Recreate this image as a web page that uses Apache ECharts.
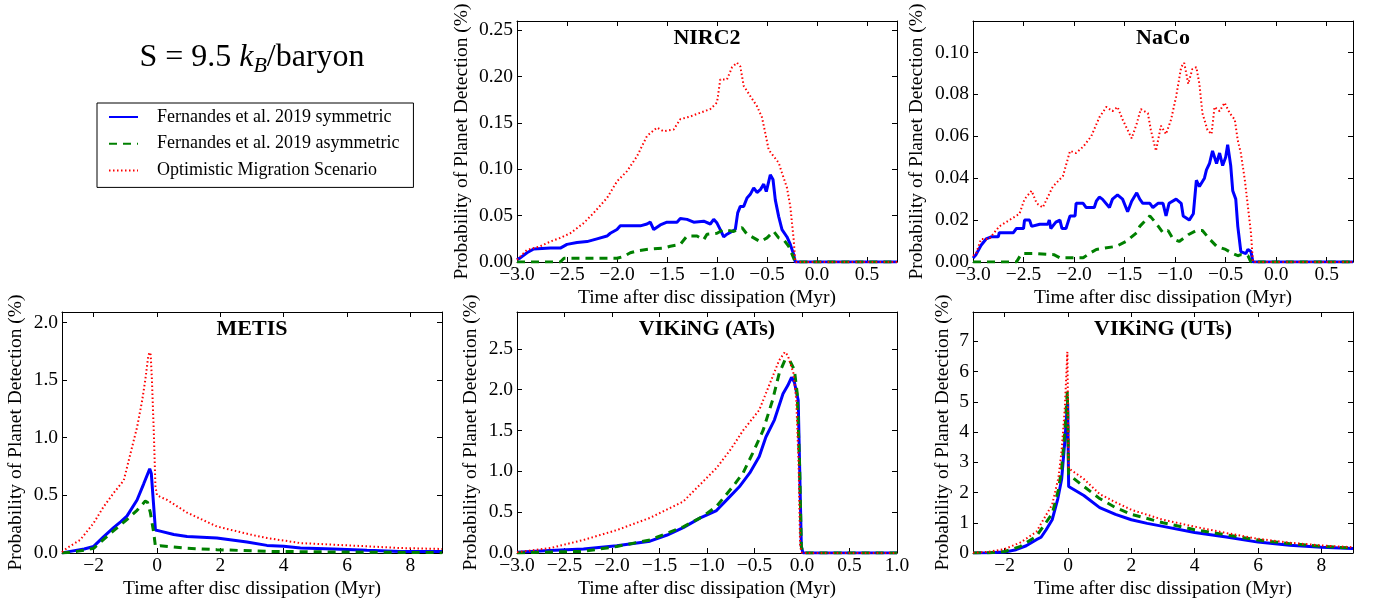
<!DOCTYPE html>
<html><head><meta charset="utf-8">
<script src="https://cdn.jsdelivr.net/npm/echarts@6/dist/echarts.min.js"></script>
<style>html,body{margin:0;padding:0;background:#fff}#c{width:1374px;height:608px}</style>
</head><body><div id="c"></div>
<script>
// ---------- names ----------
const seriesNames = ['Fernandes et al. 2019 symmetric', 'Fernandes et al. 2019 asymmetric', 'Optimistic Migration Scenario'];
const panelTitles = ['NIRC2', 'NaCo', 'METIS', 'VIKiNG (ATs)', 'VIKiNG (UTs)'];
const xAxisName = 'Time after disc dissipation (Myr)';
const yAxisName = 'Probability of Planet Detection (%)';

// ---------- tick labels ----------
const xTicksShort = [-3, -2.5, -2, -1.5, -1, -0.5, 0, 0.5];
const xTicksATs = [-3, -2.5, -2, -1.5, -1, -0.5, 0, 0.5, 1];
const xTicksLong = [-2, 0, 2, 4, 6, 8];
const yTicksNIRC2 = [0, 0.05, 0.10, 0.15, 0.20, 0.25];
const yTicksNaCo = [0, 0.02, 0.04, 0.06, 0.08, 0.10];
const yTicksMETIS = [0, 0.5, 1.0, 1.5, 2.0];
const yTicksATs = [0, 0.5, 1.0, 1.5, 2.0, 2.5];
const yTicksUTs = [0, 1, 2, 3, 4, 5, 6, 7];

// ---------- data ----------
const nirc2Sym = [[-3.0,0.0025],[-2.967,0.0045],[-2.9,0.01],[-2.833,0.014],[-2.667,0.015],[-2.567,0.015],[-2.5,0.019],[-2.4,0.021],[-2.3,0.022],[-2.2,0.025],[-2.1,0.028],[-2.067,0.031],[-2.0,0.035],[-1.967,0.039],[-1.867,0.039],[-1.767,0.039],[-1.7,0.041],[-1.667,0.043],[-1.633,0.035],[-1.567,0.04],[-1.5,0.043],[-1.4,0.043],[-1.367,0.047],[-1.3,0.046],[-1.233,0.043],[-1.133,0.044],[-1.067,0.041],[-1.033,0.046],[-1.0,0.042],[-0.967,0.035],[-0.933,0.027],[-0.9,0.03],[-0.85,0.033],[-0.817,0.035],[-0.793,0.053],[-0.767,0.06],[-0.733,0.06],[-0.7,0.069],[-0.667,0.073],[-0.633,0.08],[-0.6,0.075],[-0.567,0.078],[-0.533,0.084],[-0.507,0.076],[-0.467,0.094],[-0.44,0.089],[-0.417,0.067],[-0.383,0.049],[-0.35,0.035],[-0.3,0.027],[-0.267,0.019],[-0.233,0.008],[-0.217,0],[0.8,0]];
const nirc2Asym = [[-3,0],[-2.567,0],[-2.53,0.004],[-2.0,0.004],[-1.933,0.006],[-1.867,0.01],[-1.8,0.012],[-1.667,0.014],[-1.533,0.015],[-1.467,0.017],[-1.367,0.019],[-1.3,0.028],[-1.2,0.028],[-1.133,0.024],[-1.1,0.03],[-1.0,0.031],[-0.933,0.035],[-0.833,0.033],[-0.75,0.037],[-0.7,0.03],[-0.633,0.026],[-0.567,0.022],[-0.5,0.026],[-0.433,0.033],[-0.383,0.026],[-0.333,0.024],[-0.283,0.017],[-0.233,0.004],[-0.217,0],[0.8,0]];
const nirc2Opt = [[-3,0.0025],[-2.9,0.013],[-2.767,0.017],[-2.667,0.022],[-2.567,0.026],[-2.467,0.031],[-2.333,0.042],[-2.233,0.053],[-2.1,0.069],[-2.0,0.087],[-1.9,0.098],[-1.8,0.114],[-1.7,0.136],[-1.6,0.145],[-1.533,0.141],[-1.433,0.143],[-1.367,0.154],[-1.267,0.157],[-1.167,0.161],[-1.067,0.165],[-1.0,0.172],[-0.967,0.197],[-0.9,0.197],[-0.85,0.21],[-0.8,0.215],[-0.767,0.211],[-0.733,0.19],[-0.667,0.179],[-0.6,0.168],[-0.55,0.156],[-0.517,0.139],[-0.483,0.121],[-0.433,0.114],[-0.383,0.107],[-0.35,0.096],[-0.3,0.08],[-0.267,0.06],[-0.233,0.024],[-0.217,0],[0.8,0]];

const nacoSym = [[-3,0.0019],[-2.97,0.0035],[-2.92,0.008],[-2.87,0.011],[-2.82,0.012],[-2.75,0.012],[-2.74,0.014],[-2.6,0.014],[-2.57,0.016],[-2.5,0.016],[-2.49,0.02],[-2.44,0.02],[-2.42,0.017],[-2.34,0.018],[-2.26,0.018],[-2.245,0.02],[-2.23,0.016],[-2.18,0.019],[-2.14,0.02],[-2.12,0.016],[-2.08,0.016],[-2.04,0.022],[-1.99,0.022],[-1.98,0.028],[-1.91,0.028],[-1.88,0.026],[-1.8,0.026],[-1.78,0.029],[-1.75,0.031],[-1.72,0.03],[-1.65,0.026],[-1.62,0.03],[-1.57,0.032],[-1.52,0.03],[-1.47,0.024],[-1.43,0.029],[-1.38,0.033],[-1.35,0.03],[-1.32,0.028],[-1.25,0.028],[-1.22,0.026],[-1.17,0.028],[-1.12,0.028],[-1.09,0.022],[-1.06,0.028],[-0.99,0.03],[-0.94,0.028],[-0.92,0.022],[-0.86,0.02],[-0.82,0.023],[-0.79,0.039],[-0.76,0.036],[-0.71,0.04],[-0.69,0.044],[-0.66,0.047],[-0.63,0.053],[-0.59,0.047],[-0.56,0.052],[-0.53,0.046],[-0.5,0.05],[-0.48,0.056],[-0.45,0.046],[-0.43,0.034],[-0.4,0.03],[-0.38,0.017],[-0.35,0.005],[-0.3,0.004],[-0.28,0.006],[-0.25,0.005],[-0.23,0],[0.76,0]];
const nacoAsym = [[-3,0],[-2.57,0],[-2.52,0.004],[-2.37,0.004],[-2.2,0.0035],[-2.14,0.002],[-1.91,0.002],[-1.85,0.004],[-1.78,0.006],[-1.58,0.0075],[-1.48,0.01],[-1.38,0.014],[-1.35,0.017],[-1.29,0.02],[-1.25,0.022],[-1.19,0.0186],[-1.12,0.014],[-1.07,0.015],[-1.02,0.011],[-0.96,0.0098],[-0.87,0.013],[-0.79,0.015],[-0.73,0.015],[-0.66,0.011],[-0.59,0.0075],[-0.5,0.006],[-0.43,0.004],[-0.38,0.003],[-0.35,0.0035],[-0.28,0.003],[-0.25,0],[0.76,0]];
const nacoOpt = [[-3,0.003],[-2.97,0.004],[-2.92,0.011],[-2.84,0.011],[-2.74,0.017],[-2.64,0.02],[-2.54,0.023],[-2.49,0.03],[-2.42,0.034],[-2.37,0.028],[-2.31,0.026],[-2.21,0.036],[-2.11,0.041],[-2.04,0.053],[-1.98,0.052],[-1.91,0.055],[-1.83,0.06],[-1.75,0.069],[-1.68,0.074],[-1.62,0.072],[-1.57,0.074],[-1.52,0.068],[-1.43,0.059],[-1.38,0.066],[-1.34,0.073],[-1.27,0.071],[-1.24,0.063],[-1.19,0.053],[-1.14,0.065],[-1.09,0.061],[-1.04,0.068],[-0.99,0.079],[-0.94,0.093],[-0.91,0.095],[-0.87,0.085],[-0.83,0.092],[-0.79,0.093],[-0.76,0.085],[-0.73,0.071],[-0.68,0.063],[-0.64,0.061],[-0.61,0.074],[-0.56,0.072],[-0.51,0.076],[-0.46,0.071],[-0.41,0.068],[-0.38,0.058],[-0.35,0.052],[-0.31,0.039],[-0.28,0.0265],[-0.25,0.014],[-0.23,0],[0.76,0]];

const metisSym = [[-3,0],[-2.74,0.014],[-2.3,0.035],[-2.0,0.057],[-1.69,0.14],[-1.37,0.22],[-1.15,0.27],[-0.95,0.32],[-0.63,0.46],[-0.42,0.6],[-0.23,0.73],[-0.18,0.69],[-0.05,0.2],[0.1,0.19],[0.53,0.16],[0.95,0.144],[1.89,0.13],[2.84,0.095],[3.47,0.066],[4.0,0.058],[4.53,0.043],[5.58,0.035],[6.63,0.023],[7.68,0.014],[9,0.012]];
const metisAsym = [[-3,0],[-2.53,0.014],[-2.0,0.04],[-1.47,0.17],[-0.95,0.29],[-0.63,0.37],[-0.37,0.45],[-0.3,0.44],[-0.21,0.35],[-0.1,0.17],[-0.05,0.057],[0.1,0.063],[0.84,0.043],[1.89,0.029],[3.47,0.014],[5.58,0.009],[9,0.003]];
const metisOpt = [[-3,0.009],[-2.84,0.043],[-2.42,0.115],[-2.0,0.26],[-1.69,0.4],[-1.37,0.52],[-1.05,0.63],[-0.84,0.86],[-0.63,1.09],[-0.47,1.32],[-0.37,1.5],[-0.28,1.7],[-0.24,1.74],[-0.2,1.72],[-0.16,1.5],[-0.1,1.04],[-0.05,0.58],[0,0.5],[0.32,0.46],[0.95,0.35],[1.89,0.23],[2.95,0.16],[3.47,0.13],[4.53,0.086],[5.58,0.072],[6.63,0.058],[7.68,0.043],[9,0.035]];

const atsSym = [[-3,0.008],[-2.66,0.03],[-2.3,0.05],[-1.95,0.09],[-1.6,0.145],[-1.42,0.22],[-1.25,0.31],[-1.07,0.43],[-0.9,0.52],[-0.76,0.69],[-0.66,0.81],[-0.55,0.98],[-0.45,1.18],[-0.38,1.42],[-0.29,1.63],[-0.2,1.95],[-0.15,2.05],[-0.11,2.15],[-0.08,2.09],[-0.04,1.87],[-0.025,1.06],[-0.007,0.08],[0.01,0],[1.0,0]];
const atsAsym = [[-3,0],[-2.65,0.012],[-2.3,0.02],[-1.95,0.08],[-1.6,0.16],[-1.25,0.32],[-1.04,0.45],[-0.9,0.57],[-0.73,0.81],[-0.62,0.98],[-0.52,1.22],[-0.41,1.5],[-0.31,1.87],[-0.24,2.2],[-0.18,2.36],[-0.13,2.36],[-0.08,2.24],[-0.05,1.95],[-0.025,1.06],[-0.007,0.08],[0.01,0],[1,0]];
const atsOpt = [[-3,0.01],[-2.65,0.06],[-2.3,0.16],[-1.95,0.28],[-1.6,0.43],[-1.25,0.63],[-0.9,1.04],[-0.75,1.27],[-0.62,1.5],[-0.45,1.75],[-0.34,2.07],[-0.24,2.36],[-0.18,2.46],[-0.15,2.42],[-0.09,2.2],[-0.06,1.87],[-0.035,1.06],[-0.02,0.08],[0,0],[1,0]];

const utsSym = [[-3,0],[-2.5,0.005],[-2,0.03],[-1.64,0.11],[-1.32,0.24],[-1,0.44],[-0.85,0.52],[-0.69,0.77],[-0.5,1.1],[-0.32,1.8],[-0.2,2.45],[-0.1,3.7],[-0.04,4.6],[-0.01,4.95],[0.02,2.2],[0.5,1.9],[1.0,1.5],[1.5,1.28],[2,1.1],[2.5,0.98],[3,0.88],[4,0.68],[5,0.53],[6,0.36],[7,0.26],[8,0.19],[9,0.15]];
const utsAsym = [[-3,0],[-2.5,0.01],[-2,0.05],[-1.5,0.22],[-1,0.55],[-0.5,1.3],[-0.3,2.1],[-0.2,2.8],[-0.1,4.0],[-0.02,5.35],[0.02,2.6],[0.5,2.2],[1,1.8],[1.5,1.5],[2,1.28],[3,1.0],[4,0.77],[5,0.6],[6,0.43],[7,0.31],[8,0.22],[9,0.16]];
const utsOpt = [[-3,0.01],[-2.5,0.04],[-2,0.13],[-1.5,0.35],[-1,0.7],[-0.5,1.6],[-0.3,2.5],[-0.2,3.4],[-0.1,4.8],[-0.02,6.65],[0.02,2.8],[0.5,2.45],[1,1.95],[1.5,1.68],[2,1.43],[3,1.1],[4,0.87],[5,0.66],[6,0.47],[7,0.34],[8,0.25],[9,0.19]];

// ---------- layout & style ----------
const FF = 'Liberation Serif';
const FS = 19.5;
const panels = [
  {title: panelTitles[0], left: 517, top: 21, w: 380, h: 241, xMin: -3, xMax: 0.8, xTicks: xTicksShort, xDec: 1, yMax: 0.26, yTicks: yTicksNIRC2, yDec: 2, yGap: 45, data: [nirc2Sym, nirc2Asym, nirc2Opt]},
  {title: panelTitles[1], left: 973, top: 21, w: 380, h: 241, xMin: -3, xMax: 0.76, xTicks: xTicksShort, xDec: 1, yMax: 0.115, yTicks: yTicksNaCo, yDec: 2, yGap: 46, data: [nacoSym, nacoAsym, nacoOpt]},
  {title: panelTitles[2], left: 62, top: 312, w: 380, h: 241, xMin: -3, xMax: 9, xTicks: xTicksLong, xDec: 0, yMax: 2.09, yTicks: yTicksMETIS, yDec: 1, yGap: 36, data: [metisSym, metisAsym, metisOpt]},
  {title: panelTitles[3], left: 517, top: 312, w: 380, h: 241, xMin: -3, xMax: 1, xTicks: xTicksATs, xDec: 1, yMax: 2.95, yTicks: yTicksATs, yDec: 1, yGap: 36, data: [atsSym, atsAsym, atsOpt]},
  {title: panelTitles[4], left: 973, top: 312, w: 380, h: 241, xMin: -3, xMax: 9, xTicks: xTicksLong, xDec: 0, yMax: 7.97, yTicks: yTicksUTs, yDec: 0, yGap: 20, data: [utsSym, utsAsym, utsOpt]}
];
const lineStyles = [
  {color: '#0000ff', width: 3, type: 'solid'},
  {color: '#008000', width: 3, type: [8, 6]},
  {color: '#ff0000', width: 2, type: [1.5, 2.5]}
];

function fmt(d) {
  return function (v) {
    let s = Number(v).toFixed(d);
    if (Math.abs(v) < 1e-9) s = (0).toFixed(d);
    return s.replace('-', '\u2212');
  };
}

const grids = [], xAxes = [], yAxes = [], series = [], graphics = [];
const lineAx = {show: true, onZero: false, lineStyle: {color: '#000', width: 1}};
panels.forEach((p, i) => {
  grids.push({left: p.left, top: p.top, width: p.w, height: p.h});
  const tickStyle = {color: '#000', width: 1};
  xAxes.push({
    gridIndex: i, type: 'value', min: p.xMin, max: p.xMax, position: 'bottom',
    axisLine: lineAx,
    axisTick: {show: true, inside: true, length: 5, lineStyle: tickStyle, customValues: p.xTicks},
    axisLabel: {show: true, customValues: p.xTicks, formatter: fmt(p.xDec), margin: 3, color: '#000', fontFamily: FF, fontSize: FS},
    splitLine: {show: false},
    name: xAxisName, nameLocation: 'middle', nameGap: 26,
    nameTextStyle: {color: '#000', fontFamily: FF, fontSize: FS}
  });
  xAxes.push({
    gridIndex: i, type: 'value', min: p.xMin, max: p.xMax, position: 'top',
    axisLine: lineAx,
    axisTick: {show: true, inside: true, length: 5, lineStyle: tickStyle, customValues: p.xTicks},
    axisLabel: {show: false}, splitLine: {show: false}
  });
  yAxes.push({
    gridIndex: i, type: 'value', min: 0, max: p.yMax, position: 'left',
    axisLine: lineAx,
    axisTick: {show: true, inside: true, length: 5, lineStyle: tickStyle, customValues: p.yTicks},
    axisLabel: {show: true, customValues: p.yTicks, formatter: fmt(p.yDec), margin: 4, color: '#000', fontFamily: FF, fontSize: FS},
    splitLine: {show: false},
    name: yAxisName, nameLocation: 'middle', nameGap: p.yGap, nameRotate: 90,
    nameTextStyle: {color: '#000', fontFamily: FF, fontSize: FS}
  });
  yAxes.push({
    gridIndex: i, type: 'value', min: 0, max: p.yMax, position: 'right',
    axisLine: lineAx,
    axisTick: {show: true, inside: true, length: 5, lineStyle: tickStyle, customValues: p.yTicks},
    axisLabel: {show: false}, splitLine: {show: false}
  });
  p.data.forEach((d, k) => {
    series.push({
      type: 'line', name: seriesNames[k], data: d,
      xAxisIndex: 2 * i, yAxisIndex: 2 * i,
      showSymbol: false, symbol: 'none', smooth: false, animation: false,
      lineStyle: lineStyles[k], itemStyle: {color: lineStyles[k].color},
      clip: true, z: 2 + k
    });
  });
  graphics.push({
    type: 'text', x: p.left + p.w / 2, y: p.top + 17, z: 10,
    style: {text: p.title, fill: '#000', fontFamily: FF, fontSize: 22, fontWeight: 'bold', align: 'center', verticalAlign: 'middle'}
  });
});

graphics.push({
  type: 'text', x: 252, y: 59, z: 10,
  style: {
    text: '{n|S = 9.5 }{i|k}{s|B}{n|/baryon}',
    align: 'center', verticalAlign: 'middle',
    rich: {
      n: {fontFamily: FF, fontSize: 32, fill: '#000', lineHeight: 36, verticalAlign: 'bottom', padding: [0, 0, 3, 0]},
      i: {fontFamily: FF, fontSize: 32, fontStyle: 'italic', fill: '#000', lineHeight: 36, verticalAlign: 'bottom', padding: [0, 0, 3, 0]},
      s: {fontFamily: FF, fontSize: 22, fontStyle: 'italic', fill: '#000', lineHeight: 24, verticalAlign: 'bottom', padding: [0, 0, 0, 0]}
    }
  }
});

const chart = echarts.init(document.getElementById('c'), null, {renderer: 'canvas'});
chart.setOption({
  backgroundColor: '#fff',
  animation: false,
  grid: grids, xAxis: xAxes, yAxis: yAxes, series: series,
  legend: {
    show: true, data: seriesNames, orient: 'vertical', left: 97, top: 103,
    borderColor: '#000', borderWidth: 1, padding: [4, 14, 7, 11],
    itemWidth: 29, itemHeight: 14, itemGap: 6.7,
    itemStyle: {opacity: 0},
    textStyle: {fontFamily: FF, fontSize: 18, color: '#000', lineHeight: 20, padding: [0, 0, 0, 14]},
    selectedMode: false
  },
  graphic: graphics
});
</script></body></html>
